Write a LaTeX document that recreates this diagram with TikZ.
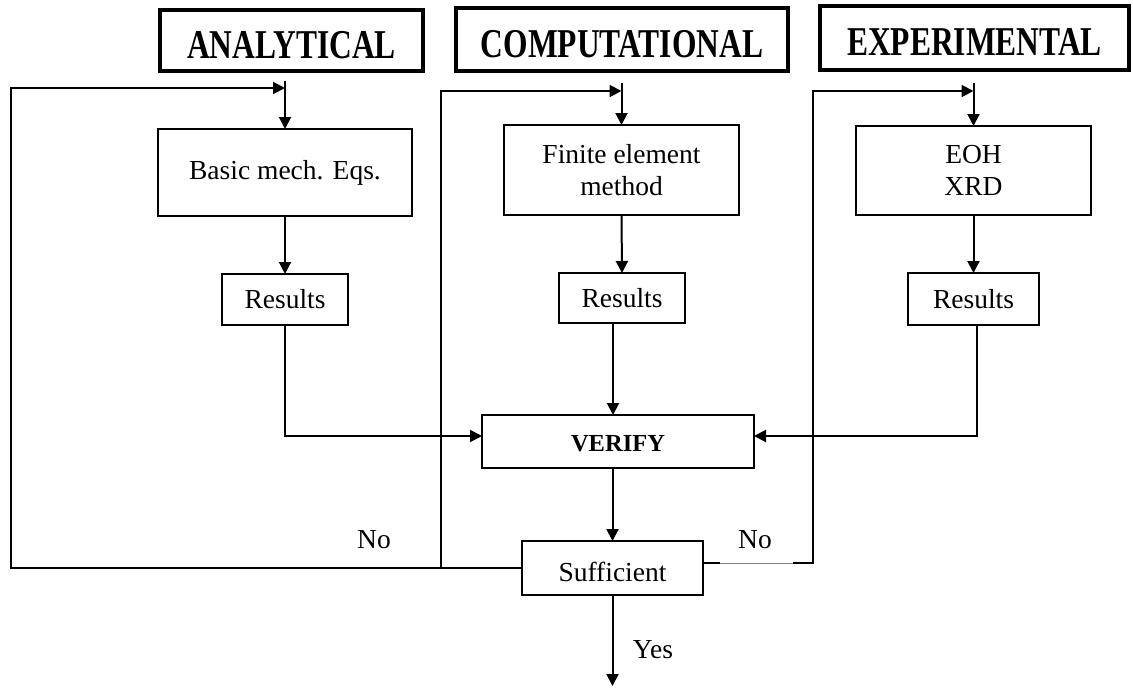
\documentclass[tikz,border=0pt]{standalone}
\usepackage{fontspec}
\usepackage{graphicx}
\setmainfont{Liberation Serif}
\usetikzlibrary{arrows.meta}
\begin{document}
\begin{tikzpicture}[x=1pt,y=-1pt,
  every node/.style={inner sep=0pt, outer sep=0pt},
  head/.style={draw, line width=4pt, rectangle, text height=35pt, text depth=0pt,
    font=\fontsize{31.5}{36}\selectfont\bfseries},
  box/.style={draw, line width=2pt, rectangle, align=center,
    font=\fontsize{27.5}{32}\selectfont},
  link/.style={line width=2pt},
  flow/.style={link, -{Triangle[length=12pt,width=12pt]}},
  lbl/.style={font=\fontsize{27.5}{32}\selectfont}
]
\useasboundingbox (0,0) rectangle (1133,688);

% column headings
\node[head, minimum width=263pt, minimum height=61pt] (hA) at (291.5,40.5) {\scalebox{1}[1.3]{ANALYTICAL}};
\node[head, minimum width=332pt, minimum height=63pt] (hC) at (622,39.5) {\scalebox{1}[1.3]{COMPUTATIONAL}};
\node[head, minimum width=309pt, minimum height=64pt] (hE) at (974.5,38) {\scalebox{1}[1.3]{EXPERIMENTAL}};

% method boxes
\node[box, minimum width=254pt, minimum height=87pt, text height=13pt, text depth=0pt] (bA) at (285,172.5) {Basic mech. Eqs.};
\node[box, minimum width=235pt, minimum height=90pt] (bC) at (621.5,170) {Finite element\\method};
\node[box, minimum width=235pt, minimum height=89pt] (bE) at (973.5,170.5) {EOH\\XRD};

% result boxes
\node[box, minimum width=126pt, minimum height=51pt] (rA) at (285,299.5) {Results};
\node[box, minimum width=126pt, minimum height=50pt] (rC) at (622,298) {Results};
\node[box, minimum width=131pt, minimum height=52pt] (rE) at (973.5,299) {Results};

% verification and decision
\node[box, minimum width=272pt, minimum height=53pt, text height=20pt, text depth=0pt,
  font=\fontsize{24.5}{28}\selectfont\bfseries] (ver) at (618,441.5) {VERIFY};
\node[box, minimum width=181pt, minimum height=54pt, text height=26pt, text depth=0pt] (suf) at (612.5,568) {Sufficient};

% loop-back corners and free ends
\coordinate (tA) at (285,81);
\coordinate (tC) at (621.5,83);
\coordinate (tE) at (973.5,83);
\coordinate (lA) at (11,88);
\coordinate (lC) at (441,91);
\coordinate (jC) at (441,568);
\coordinate (lE) at (813,91);
\coordinate (eR) at (704,563);
\coordinate (g1) at (720,563);
\coordinate (g2) at (793,563);
\coordinate (out) at (612.5,686);

% entry arrows into the method boxes
\draw[flow] (tA) -- (bA.north);
\draw[flow] (tC) -- (bC.north);
\draw[flow] (tE) -- (bE.north);

% methods to results
\draw[flow] (bA.south) -- (rA.north);
\draw[flow] (bC.south) -- (rC.north);
\draw[flow] (bE.south) -- (rE.north);

% results to verification
\draw[flow] (rA.south) |- ([yshift=5.5pt]ver.west);
\draw[flow] ([xshift=-9pt]rC.south) -- ([xshift=-9pt]rC.south |- ver.north);
\draw[flow] ([xshift=3.5pt]rE.south) |- ([yshift=5.5pt]ver.east);

% verification to decision
\draw[flow] (ver.south -| suf.north) -- (suf.north);
\draw[flow] (suf.south) -- (out);

% "No" loops back to each method
\draw[flow] (suf.west) -| (lA) -- (lA -| bA.north);
\draw[flow] (jC) -- (lC) -- (lC -| bC.north);
\draw[link] (eR) -- (g1);
\draw[line width=0.6pt, gray] (g1) -- (g2);
\draw[flow] (g2) -| (lE) -- (lE -| bE.north);

% branch labels
\node[lbl] (noA) at (374,540) {No};
\node[lbl] (noE) at (755,540) {No};
\node[lbl] (yes) at (653,650) {Yes};
\end{tikzpicture}
\end{document}
